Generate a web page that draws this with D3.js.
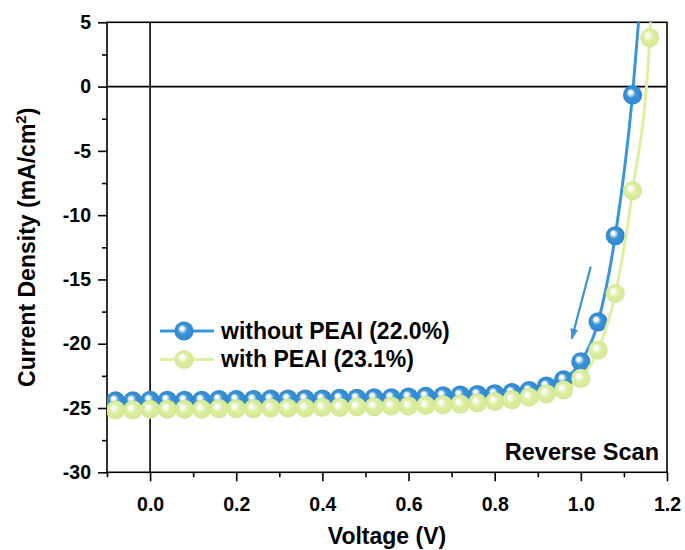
<!DOCTYPE html>
<html>
<head>
<meta charset="utf-8">
<script src="https://cdn.jsdelivr.net/npm/d3@7"></script>
<style>
  html, body { margin: 0; padding: 0; background: #fff; }
  svg text { font-family: "Liberation Sans", Arial, sans-serif; font-weight: bold; fill: #000; }
</style>
</head>
<body>
<div id="chart"></div>
<script>
// voltage steps (V) of the measured points
const voltWithout = [-0.08, -0.04, 0.00, 0.04, 0.08, 0.12, 0.16, 0.20, 0.24, 0.28, 0.32, 0.36, 0.40, 0.44, 0.48,
  0.52, 0.56, 0.60, 0.64, 0.68, 0.72, 0.76, 0.80, 0.84, 0.88, 0.92, 0.96, 1.00, 1.04, 1.08, 1.12];
const jWithout = [-24.45, -24.45, -24.4, -24.4, -24.4, -24.4, -24.35, -24.35, -24.35, -24.3, -24.3, -24.3, -24.3,
  -24.25, -24.25, -24.2, -24.2, -24.15, -24.1, -24.05, -24.0, -23.95, -23.9, -23.8, -23.65, -23.3, -22.8, -21.4,
  -18.3, -11.6, -0.65];

const voltWith = [-0.08, -0.04, 0.00, 0.04, 0.08, 0.12, 0.16, 0.20, 0.24, 0.28, 0.32, 0.36, 0.40, 0.44, 0.48,
  0.52, 0.56, 0.60, 0.64, 0.68, 0.72, 0.76, 0.80, 0.84, 0.88, 0.92, 0.96, 1.00, 1.04, 1.08, 1.12, 1.16];
const jWith = [-25.15, -25.15, -25.1, -25.1, -25.1, -25.1, -25.05, -25.05, -25.05, -25.0, -25.0, -25.0, -24.95,
  -24.95, -24.9, -24.9, -24.85, -24.85, -24.8, -24.75, -24.7, -24.6, -24.5, -24.35, -24.15, -23.9, -23.6, -22.7,
  -20.5, -16.1, -8.1, 3.8];

// fitted curves run on past the last point, out of the frame
const tailWithout = [1.14, 7.5];
const tailWith = [1.168, 9];

const seriesNames = ["without PEAI (22.0%)", "with PEAI (23.1%)"];
const xMajor = [0, 0.2, 0.4, 0.6, 0.8, 1.0, 1.2];
const xMinor = [-0.1, 0.1, 0.3, 0.5, 0.7, 0.9, 1.1];
const yMajor = [-30, -25, -20, -15, -10, -5, 0, 5];
const yMinor = [-27.5, -22.5, -17.5, -12.5, -7.5, -2.5, 2.5];
const arrowFrom = [1.023, -14.0];
const arrowTo = [0.979, -19.6];

const width = 685, height = 550;
const margin = { top: 22.3, right: 18, bottom: 77.7, left: 107 };

const svg = d3.select("#chart").append("svg")
  .attr("width", width).attr("height", height);

const x = d3.scaleLinear().domain([-0.1, 1.2]).range([margin.left, width - margin.right]);
const y = d3.scaleLinear().domain([-30, 5]).range([height - margin.bottom, margin.top]);

const defs = svg.append("defs");
function ball(id, base, edge) {
  const g = defs.append("radialGradient").attr("id", id)
    .attr("cx", "50%").attr("cy", "50%").attr("r", "50%")
    .attr("fx", "36%").attr("fy", "34%");
  g.append("stop").attr("offset", "0%").attr("stop-color", "#fff");
  g.append("stop").attr("offset", "18%").attr("stop-color", "#fff").attr("stop-opacity", 0.95);
  g.append("stop").attr("offset", "48%").attr("stop-color", base);
  g.append("stop").attr("offset", "100%").attr("stop-color", edge);
}
ball("ballBlue", "#3a93d8", "#2f86cf");
ball("ballGreen", "#dcefa2", "#d3e894");

defs.append("clipPath").attr("id", "plotClip").append("rect")
  .attr("x", x(-0.1)).attr("y", y(5))
  .attr("width", x(1.2) - x(-0.1)).attr("height", y(-30) - y(5));

defs.append("marker").attr("id", "arrowHead")
  .attr("viewBox", "0 0 10 10").attr("refX", 9).attr("refY", 5)
  .attr("markerWidth", 5).attr("markerHeight", 5).attr("orient", "auto")
  .attr("markerUnits", "strokeWidth")
  .append("path").attr("d", "M0,1.5L10,5L0,8.5Z").attr("fill", "#3a93d8");

// frame, zero lines
const frame = svg.append("g").attr("stroke", "#000").attr("stroke-width", 1.6).attr("fill", "none");
frame.append("rect")
  .attr("x", x(-0.1)).attr("y", y(5))
  .attr("width", x(1.2) - x(-0.1)).attr("height", y(-30) - y(5));
frame.append("line").attr("x1", x(-0.1)).attr("x2", x(1.2)).attr("y1", y(0)).attr("y2", y(0));
frame.append("line").attr("x1", x(0)).attr("x2", x(0)).attr("y1", y(5)).attr("y2", y(-30));

// axes
function styleAxis(g) {
  g.select(".domain").remove();
  g.selectAll(".tick line").attr("stroke", "#000").attr("stroke-width", 1.6);
  g.selectAll(".tick text").attr("font-family", null).attr("font-size", 19.5);
}
svg.append("g").attr("transform", `translate(0,${y(-30)})`)
  .call(d3.axisBottom(x).tickValues(xMinor).tickSize(5).tickFormat(""))
  .call(styleAxis);
svg.append("g").attr("transform", `translate(0,${y(-30)})`)
  .call(d3.axisBottom(x).tickValues(xMajor).tickSize(9).tickPadding(16).tickFormat(d => d.toFixed(1)))
  .call(styleAxis);
svg.append("g").attr("transform", `translate(${x(-0.1)},0)`)
  .call(d3.axisLeft(y).tickValues(yMinor).tickSize(5).tickFormat(""))
  .call(styleAxis);
svg.append("g").attr("transform", `translate(${x(-0.1)},0)`)
  .call(d3.axisLeft(y).tickValues(yMajor).tickSize(9).tickPadding(7).tickFormat(d => String(d)))
  .call(styleAxis);

// series
const series = [
  { v: voltWithout, j: jWithout, tail: tailWithout, color: "#3a96dc", fill: "url(#ballBlue)" },
  { v: voltWith, j: jWith, tail: tailWith, color: "#dcf0a0", fill: "url(#ballGreen)" }
];

const line = d3.line().x(d => x(d[0])).y(d => y(d[1])).curve(d3.curveMonotoneX);
const plot = svg.append("g").attr("clip-path", "url(#plotClip)");

series.forEach(s => {
  const pts = s.v.map((v, i) => [v, s.j[i]]);
  plot.append("path")
    .datum(pts.concat([s.tail]))
    .attr("d", line)
    .attr("fill", "none").attr("stroke", s.color).attr("stroke-width", 3);
  plot.append("g").selectAll("circle").data(pts).join("circle")
    .attr("cx", d => x(d[0])).attr("cy", d => y(d[1])).attr("r", 9.6)
    .attr("fill", s.fill);
});

// scan direction arrow
svg.append("line")
  .attr("x1", x(arrowFrom[0])).attr("y1", y(arrowFrom[1]))
  .attr("x2", x(arrowTo[0])).attr("y2", y(arrowTo[1]))
  .attr("stroke", "#3a93d8").attr("stroke-width", 2.2)
  .attr("marker-end", "url(#arrowHead)");

// legend
const legend = svg.append("g").attr("transform", "translate(160,331)");
series.forEach((s, i) => {
  const row = legend.append("g").attr("transform", `translate(0,${i * 28.5})`);
  row.append("line").attr("x1", 0).attr("x2", 54).attr("y1", 0).attr("y2", 0)
    .attr("stroke", s.color).attr("stroke-width", 3);
  row.append("circle").attr("cx", 24).attr("cy", 0).attr("r", 9.6).attr("fill", s.fill);
  row.append("text").attr("x", 61).attr("y", 7.5).attr("font-size", 23).text(seriesNames[i]);
});

svg.append("text").attr("x", 659).attr("y", 460).attr("text-anchor", "end")
  .attr("font-size", 23.5).text("Reverse Scan");

svg.append("text").attr("x", (x(-0.1) + x(1.2)) / 2).attr("y", 544).attr("text-anchor", "middle")
  .attr("font-size", 23).text("Voltage (V)");

const yTitle = svg.append("text")
  .attr("transform", `translate(35,${(y(5) + y(-30)) / 2}) rotate(-90)`)
  .attr("text-anchor", "middle").attr("font-size", 23);
yTitle.append("tspan").text("Current Density (mA/cm");
yTitle.append("tspan").attr("font-size", 15).attr("dy", -9).text("2");
yTitle.append("tspan").attr("dy", 9).text(")");
</script>
</body>
</html>
